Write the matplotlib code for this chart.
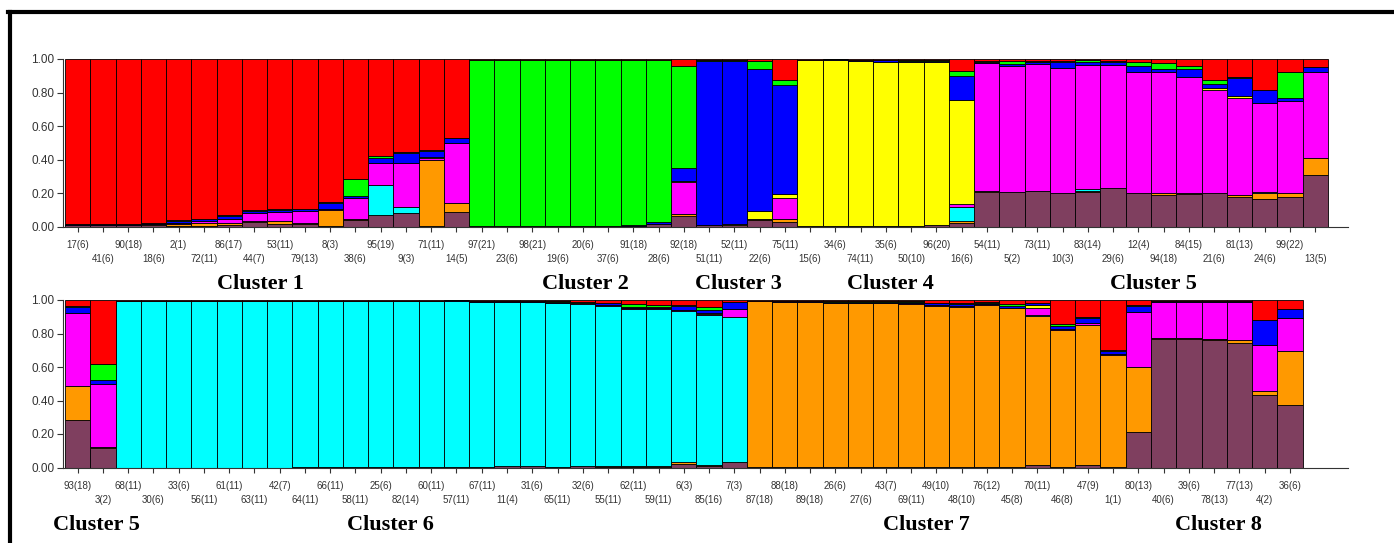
import numpy as np
import matplotlib.pyplot as plt
from matplotlib.lines import Line2D

plt.rcParams['font.family'] = ['Liberation Sans', 'DejaVu Sans']

# membership colours, stacked bottom -> top
colours = ["#7f3f5f", "#ff9900", "#00ffff", "#ff00ff",
           "#ffff00", "#0000ff", "#00ff00", "#ff0000"]

########### top row ###########
top_labels = ["17(6)", "41(6)", "90(18)", "18(6)", "2(1)", "72(11)", "86(17)", "44(7)",
              "53(11)", "79(13)", "8(3)", "38(6)", "95(19)", "9(3)", "71(11)", "14(5)",
              "97(21)", "23(6)", "98(21)", "19(6)", "20(6)", "37(6)", "91(18)", "28(6)",
              "92(18)", "51(11)", "52(11)", "22(6)", "75(11)",
              "15(6)", "34(6)", "74(11)", "35(6)", "50(10)", "96(20)", "16(6)",
              "54(11)", "5(2)", "73(11)", "10(3)", "83(14)", "29(6)", "12(4)", "94(18)",
              "84(15)", "21(6)", "81(13)", "24(6)", "99(22)", "13(5)"]

top_brown = [0.01, 0.01, 0.01, 0.01, 0.005, 0.005, 0.01, 0.03, 0.02, 0.02, 0.005, 0.04, 0.07, 0.085, 0.005, 0.09,
             0.005, 0.005, 0.005, 0.005, 0.005, 0.005, 0.005, 0.02, 0.065,
             0.01, 0.01, 0.04, 0.03,
             0.005, 0.005, 0.005, 0.005, 0.005, 0.01, 0.025,
             0.21, 0.21, 0.215, 0.20, 0.21, 0.235, 0.20, 0.19, 0.195, 0.20, 0.18, 0.165, 0.18, 0.31]
top_orange = [0, 0, 0, 0.005, 0.015, 0.02, 0.015, 0.005, 0.015, 0.005, 0.095, 0.005, 0, 0, 0.395, 0.05,
              0, 0, 0, 0, 0, 0, 0, 0, 0.01,
              0, 0, 0.005, 0.02,
              0, 0, 0, 0, 0, 0, 0.01,
              0.005, 0, 0, 0.005, 0.005, 0, 0.005, 0.01, 0.005, 0.005, 0.01, 0.035, 0.025, 0.10]
top_cyan = [0, 0, 0, 0, 0, 0, 0, 0, 0, 0, 0, 0, 0.18, 0.035, 0, 0,
            0, 0, 0, 0, 0, 0, 0, 0, 0,
            0, 0, 0, 0,
            0, 0, 0, 0, 0, 0, 0.085,
            0, 0, 0, 0, 0.01, 0, 0, 0, 0, 0, 0, 0.01, 0, 0]
top_magenta = [0, 0, 0, 0, 0.005, 0.01, 0.02, 0.05, 0.055, 0.07, 0.01, 0.125, 0.13, 0.26, 0.01, 0.36,
               0, 0, 0, 0, 0, 0, 0, 0, 0.19,
               0, 0, 0, 0.12,
               0, 0, 0, 0, 0, 0, 0.015,
               0.76, 0.75, 0.755, 0.74, 0.74, 0.73, 0.72, 0.725, 0.69, 0.61, 0.58, 0.53, 0.545, 0.51]
top_yellow = [0, 0, 0, 0, 0, 0, 0, 0, 0, 0, 0, 0, 0, 0, 0.005, 0,
              0, 0, 0, 0, 0, 0, 0, 0, 0.01,
              0, 0.005, 0.05, 0.025,
              0.99, 0.99, 0.985, 0.98, 0.975, 0.97, 0.62,
              0, 0, 0, 0, 0, 0, 0, 0, 0, 0.015, 0.01, 0, 0, 0]
top_blue = [0.005, 0.005, 0.005, 0.01, 0.01, 0.01, 0.02, 0.01, 0.01, 0.01, 0.03, 0.015, 0.03, 0.06, 0.04, 0.03,
            0, 0, 0, 0, 0, 0, 0.005, 0.01, 0.075,
            0.98, 0.975, 0.845, 0.65,
            0, 0.005, 0.005, 0.01, 0.01, 0.01, 0.145,
            0.01, 0.01, 0.015, 0.04, 0.015, 0.02, 0.035, 0.015, 0.05, 0.02, 0.105, 0.075, 0.02, 0.03]
top_green = [0, 0, 0.005, 0, 0.005, 0.005, 0.005, 0.005, 0.01, 0.005, 0.01, 0.10, 0.01, 0.005, 0.005, 0,
             0.99, 0.99, 0.99, 0.99, 0.99, 0.99, 0.985, 0.965, 0.61,
             0.005, 0.005, 0.05, 0.03,
             0, 0, 0, 0, 0.005, 0.005, 0.03,
             0.005, 0.02, 0.005, 0.005, 0.015, 0.005, 0.025, 0.035, 0.02, 0.025, 0.005, 0, 0.15, 0.005]
top_red = [0.985, 0.985, 0.98, 0.975, 0.96, 0.95, 0.93, 0.90, 0.89, 0.89, 0.85, 0.715, 0.58, 0.555, 0.54, 0.47,
           0.005, 0.005, 0.005, 0.005, 0.005, 0.005, 0.005, 0.005, 0.04,
           0.005, 0.005, 0.01, 0.125,
           0.005, 0, 0.005, 0.005, 0.005, 0.005, 0.07,
           0.01, 0.01, 0.01, 0.01, 0.005, 0.01, 0.015, 0.025, 0.04, 0.125, 0.11, 0.185, 0.08, 0.045]

########### bottom row ###########
bot_labels = ["93(18)", "3(2)",
              "68(11)", "30(6)", "33(6)", "56(11)", "61(11)", "63(11)", "42(7)", "64(11)", "66(11)",
              "58(11)", "25(6)", "82(14)", "60(11)", "57(11)", "67(11)", "11(4)", "31(6)", "65(11)",
              "32(6)", "55(11)", "62(11)", "59(11)", "6(3)", "85(16)", "7(3)",
              "87(18)", "88(18)", "89(18)", "26(6)", "27(6)", "43(7)", "69(11)", "49(10)", "48(10)",
              "76(12)", "45(8)", "70(11)", "46(8)", "47(9)", "1(1)",
              "80(13)", "40(6)", "39(6)", "78(13)", "77(13)", "4(2)", "36(6)"]

bot_brown = [0.285, 0.115] + [0] * 7 + [0.005] * 6 + \
            [0.005, 0.005, 0.01, 0.01, 0.005, 0.01, 0.005, 0.005, 0.005, 0.02, 0.01, 0.03] + \
            [0.005] * 11 + [0.015, 0.005, 0.015, 0.005] + \
            [0.21, 0.77, 0.77, 0.76, 0.745, 0.43, 0.375]
bot_orange = [0.20, 0.005] + [0] * 13 + \
             [0, 0, 0, 0, 0, 0, 0.005, 0.005, 0.005, 0.01, 0.005, 0.005] + \
             [0.99, 0.985, 0.985, 0.98, 0.98, 0.975, 0.97, 0.96, 0.955, 0.965, 0.945, 0.89, 0.815, 0.835, 0.665] + \
             [0.39, 0.005, 0.005, 0.005, 0.015, 0.025, 0.32]
bot_cyan = [0, 0] + [0.995] * 7 + [0.99] * 6 + \
           [0.99, 0.985, 0.98, 0.98, 0.975, 0.965, 0.955, 0.935, 0.935, 0.905, 0.895, 0.865] + \
           [0, 0, 0, 0, 0, 0, 0, 0, 0, 0, 0, 0.005, 0, 0, 0] + \
           [0, 0, 0, 0, 0, 0, 0]
bot_magenta = [0.44, 0.38] + [0] * 13 + \
              [0, 0, 0, 0, 0.005, 0.005, 0.005, 0.005, 0.005, 0.005, 0.005, 0.045] + \
              [0, 0, 0, 0, 0, 0, 0.005, 0.005, 0.005, 0.005, 0.005, 0.045, 0.005, 0.01, 0.005] + \
              [0.33, 0.215, 0.215, 0.225, 0.23, 0.275, 0.20]
bot_yellow = [0, 0] + [0] * 13 + \
             [0, 0, 0, 0, 0, 0, 0, 0, 0, 0, 0.005, 0] + \
             [0, 0, 0, 0, 0, 0.005, 0, 0, 0, 0, 0, 0.015, 0, 0, 0] + \
             [0, 0, 0, 0, 0, 0, 0]
bot_blue = [0.035, 0.02] + [0] * 13 + \
           [0.005, 0.005, 0.005, 0.005, 0.005, 0.005, 0.01, 0.01, 0.01, 0.025, 0.02, 0.045] + \
           [0, 0.005, 0.005, 0.005, 0.005, 0.005, 0.01, 0.01, 0.01, 0.01, 0.01, 0.01, 0.02, 0.035, 0.02] + \
           [0.035, 0.005, 0.005, 0.005, 0.005, 0.15, 0.05]
bot_green = [0.005, 0.10] + [0] * 13 + \
            [0, 0, 0, 0, 0.005, 0.005, 0.005, 0.015, 0.01, 0.005, 0.02, 0] + \
            [0, 0, 0, 0.005, 0.005, 0.005, 0.005, 0.005, 0.01, 0.005, 0.01, 0.005, 0.01, 0.005, 0.005] + \
            [0.005, 0, 0, 0, 0, 0, 0]
bot_red = [0.035, 0.38] + [0.005] * 13 + \
          [0, 0.005, 0.005, 0.005, 0.005, 0.01, 0.015, 0.025, 0.03, 0.03, 0.04, 0.01] + \
          [0.005, 0.005, 0.005, 0.005, 0.005, 0.005, 0.005, 0.015, 0.015, 0.01, 0.025, 0.015, 0.145, 0.10, 0.30] + \
          [0.03, 0.005, 0.005, 0.005, 0.005, 0.12, 0.055]

top_clusters = ["Cluster 1", "Cluster 2", "Cluster 3", "Cluster 4", "Cluster 5"]
bot_clusters = ["Cluster 5", "Cluster 6", "Cluster 7", "Cluster 8"]

W, H = 1394, 543
fig = plt.figure(figsize=(W / 100, H / 100), dpi=100)


def draw_panel(rect, labels, series):
    ax = fig.add_axes(rect)
    x = np.arange(len(labels)) + 0.5
    base = np.zeros(len(labels))
    for q, c in zip(series, colours):
        ax.bar(x, q, width=1.0, bottom=base, color=c, edgecolor="black", linewidth=0.6)
        base = base + np.array(q)
    ax.set_xlim(-0.1, 50.8)
    ax.set_ylim(0, 1)
    for s in ["top", "right"]:
        ax.spines[s].set_visible(False)
    ax.spines["left"].set_color("#333333")
    ax.spines["bottom"].set_color("#333333")
    ax.spines["left"].set_linewidth(0.8)
    ax.spines["bottom"].set_linewidth(0.8)
    ax.set_yticks(np.arange(0, 1.01, 0.2), ["%.2f" % v for v in np.arange(0, 1.01, 0.2)])
    ax.tick_params(axis="y", length=4, width=0.8, pad=2, labelsize=8.5,
                   color="#333333", labelcolor="#333333")
    ax.set_xticks(x[::2], labels[::2])
    ax.set_xticks(x[1::2], labels[1::2], minor=True)
    ax.tick_params(axis="x", which="both", length=3.5, width=0.8, labelsize=7,
                   color="#333333", labelcolor="#333333")
    ax.tick_params(axis="x", which="major", pad=6)
    ax.tick_params(axis="x", which="minor", pad=16)
    return ax


x0, x1 = 62.5, 1348
draw_panel([x0 / W, 1 - 227 / H, (x1 - x0) / W, 168 / H], top_labels,
           [top_brown, top_orange, top_cyan, top_magenta, top_yellow, top_blue, top_green, top_red])
draw_panel([x0 / W, 1 - 467.5 / H, (x1 - x0) / W, 167.5 / H], bot_labels,
           [bot_brown, bot_orange, bot_cyan, bot_magenta, bot_yellow, bot_blue, bot_green, bot_red])

# cluster names under each row (pixel centres)
for name, px in zip(top_clusters, [260, 585, 738, 890, 1153]):
    fig.text(px / W, 1 - 284 / H, name, ha="center", va="center", fontsize=16,
             fontweight="bold", family=["Liberation Serif", "DejaVu Serif"])
for name, px in zip(bot_clusters, [96, 390, 926, 1218]):
    fig.text(px / W, 1 - 525 / H, name, ha="center", va="center", fontsize=16,
             fontweight="bold", family=["Liberation Serif", "DejaVu Serif"])

# black frame on top and left
fig.add_artist(Line2D([8 / W, 1], [1 - 12 / H, 1 - 12 / H], color="black", linewidth=3))
fig.add_artist(Line2D([10 / W, 10 / W], [0, 1 - 12 / H], color="black", linewidth=3))

fig.savefig("out.png", dpi=100)
